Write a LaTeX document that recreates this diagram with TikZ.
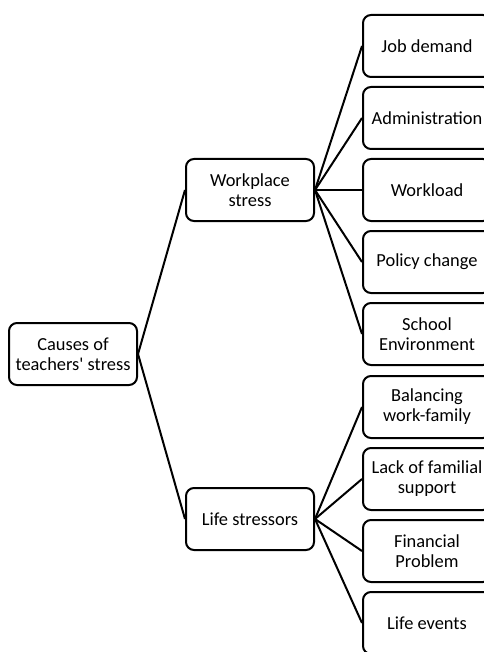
\documentclass[tikz,border=0pt]{standalone}
\usepackage{fontspec}
\setmainfont{Carlito}

\begin{document}
\begin{tikzpicture}[x=0.75pt,y=-0.75pt,line width=1.5pt,
  box/.style={draw,rounded corners=6pt,minimum width=96pt,minimum height=46.5pt,
    align=center,inner sep=1pt,font=\fontsize{13.8}{15}\selectfont}]
\clip (0,0) rectangle (484,652);
\node[box] (causes) at (73,354) {Causes of\\teachers\textquotesingle{} stress};
\node[box] (work) at (250,190) {Workplace\\stress};
\node[box] (life) at (250,519) {Life stressors};
\node[box] (job) at (427,46) {Job demand};
\node[box] (admin) at (427,118) {Administration};
\node[box] (load) at (427,190) {Workload};
\node[box] (policy) at (427,262) {Policy change};
\node[box] (school) at (427,334) {School\\Environment};
\node[box] (balance) at (427,407) {Balancing\\work-family};
\node[box] (support) at (427,479) {Lack of familial\\support};
\node[box] (money) at (427,551) {Financial\\Problem};
\node[box] (events) at (427,623) {Life events};
\draw (causes.east)--(work.west);
\draw (causes.east)--(life.west);
\foreach \c in {job,admin,load,policy,school}
  \draw (work.east)--(\c.west);
\foreach \c in {balance,support,money,events}
  \draw (life.east)--(\c.west);
\end{tikzpicture}
\end{document}
